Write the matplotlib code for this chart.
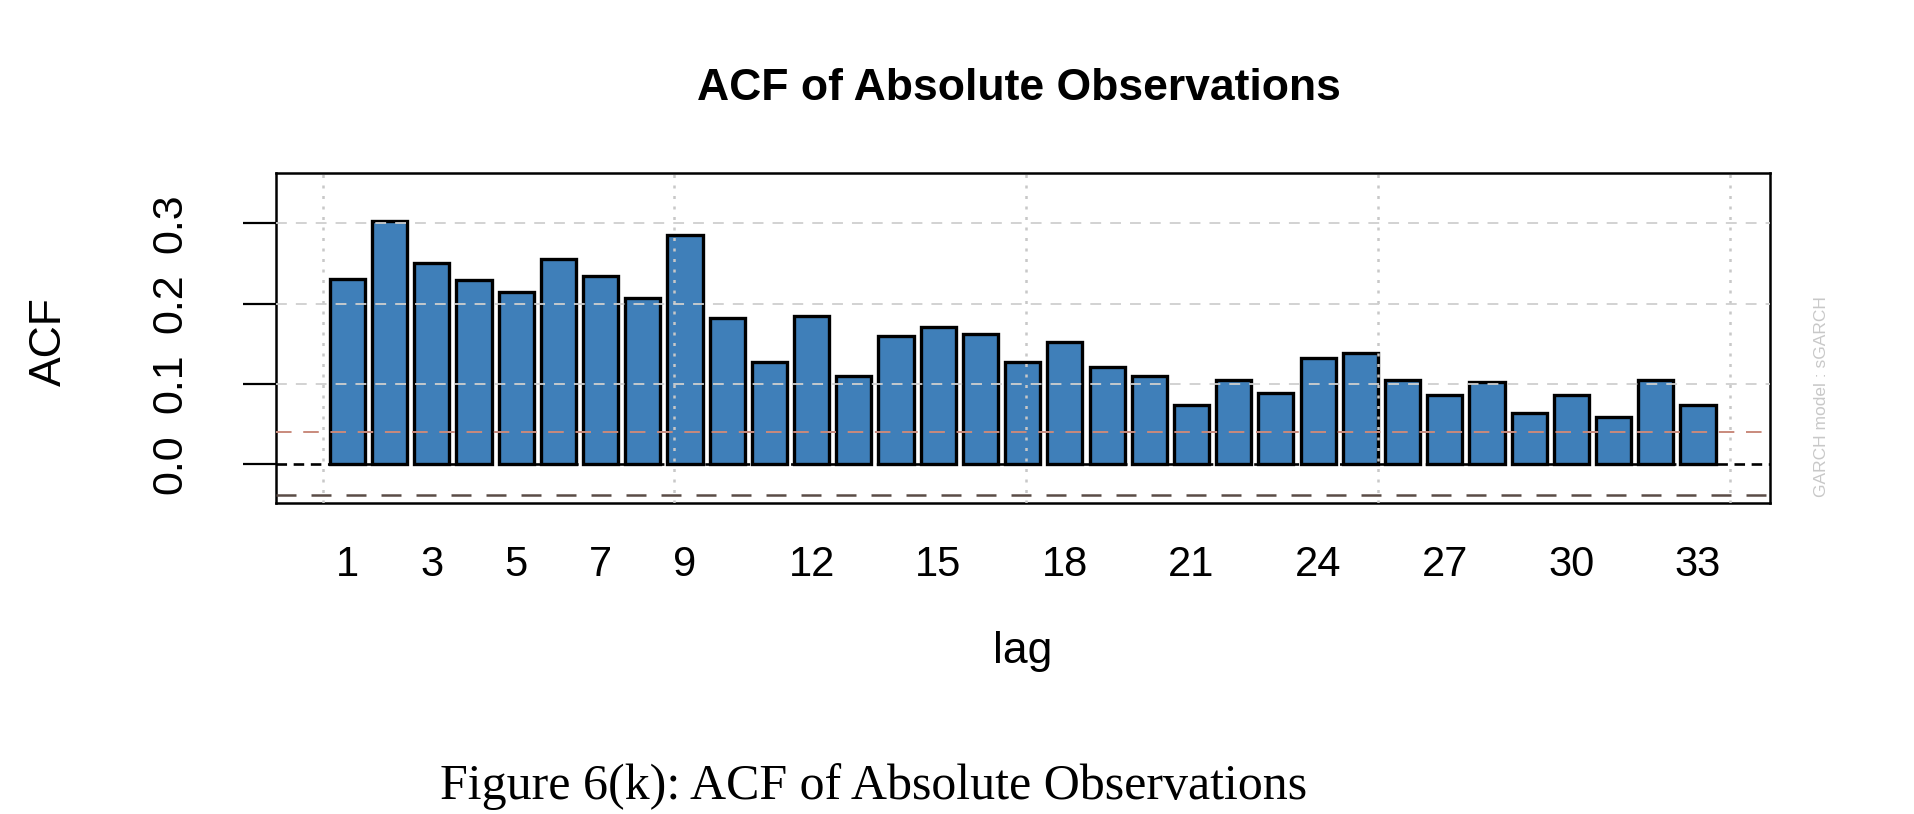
import numpy as np
import matplotlib
matplotlib.use("Agg")
import matplotlib.pyplot as plt

# ACF of |x|, lags 1..33
lags = np.arange(1, 34)
acf_values = [0.231, 0.303, 0.251, 0.229, 0.215, 0.256, 0.234, 0.207, 0.286, 0.182,
              0.127, 0.185, 0.110, 0.160, 0.171, 0.162, 0.127, 0.152, 0.121, 0.110,
              0.074, 0.104, 0.088, 0.132, 0.138, 0.104, 0.086, 0.102, 0.063, 0.086,
              0.058, 0.104, 0.074]
tick_lags = [1, 3, 5, 7, 9, 12, 15, 18, 21, 24, 27, 30, 33]
y_ticks = [0.0, 0.1, 0.2, 0.3]
conf_limit = 0.0392

plt.rcParams['font.family'] = ['Liberation Sans', 'DejaVu Sans']

fig = plt.figure(figsize=(19.14, 8.14), dpi=100)
ax = fig.add_axes([0.1442, 0.382, 0.7806, 0.4055])

# R barplot coordinates: width 1, space 0.2
pos = 1.2 * lags - 0.5
ax.bar(pos, acf_values, width=1.0, color='#3f7fb9', edgecolor='black',
       linewidth=2.4, zorder=2)

# grid() style lines drawn over the bars
for gx in [0, 10, 20, 30, 40]:
    ax.axvline(gx, color='#c8c8c8', linestyle=(0, (1.2, 3.0)), linewidth=1.8, zorder=3)
for gy in y_ticks[1:]:
    ax.axhline(gy, color='#cfcfcf', linestyle=(0, (6, 5)), linewidth=1.3, zorder=3)

ax.axhline(0, color='black', linestyle=(0, (4, 2.5)), linewidth=1.9, zorder=4)
ax.axhline(conf_limit, color='#c98a7c', linestyle=(0, (8, 6)), linewidth=1.4, zorder=4)
ax.axhline(-conf_limit, color='#5a4c46', linestyle=(0, (8, 6)), linewidth=1.8, zorder=4)

ax.set_xlim(-1.33, 41.15)
ax.set_ylim(-0.049, 0.363)

ax.set_xticks([1.2 * t - 0.5 for t in tick_lags])
ax.set_xticklabels([str(t) for t in tick_lags], fontsize=30)
ax.tick_params(axis='x', length=0, pad=30)

ax.set_yticks(y_ticks)
ax.set_yticklabels(['%.1f' % v for v in y_ticks], fontsize=31, rotation=90, va='center')
ax.tick_params(axis='y', length=24, width=1.6, pad=38)

for s in ax.spines.values():
    s.set_linewidth(1.8)

fig.text(1019 / 1914, 1 - 89 / 814, 'ACF of Absolute Observations', fontsize=32,
         fontweight='bold', ha='center', va='center')
fig.text(49 / 1914, 1 - 342 / 814, 'ACF', rotation=90, fontsize=32, ha='center', va='center')
fig.text(1023 / 1914, 1 - 651 / 814, 'lag', fontsize=32, ha='center', va='center')
fig.text(1822 / 1914, 1 - 397 / 814, 'GARCH model : sGARCH', rotation=90, fontsize=12.5,
         color='#c8c8c8', ha='center', va='center')

fig.text(874 / 1914, 1 - 787 / 814, 'Figure 6(k): ACF of Absolute Observations',
         family=['Liberation Serif', 'DejaVu Serif'], fontsize=36, ha='center', va='center')

fig.savefig('out.png', dpi=100)
